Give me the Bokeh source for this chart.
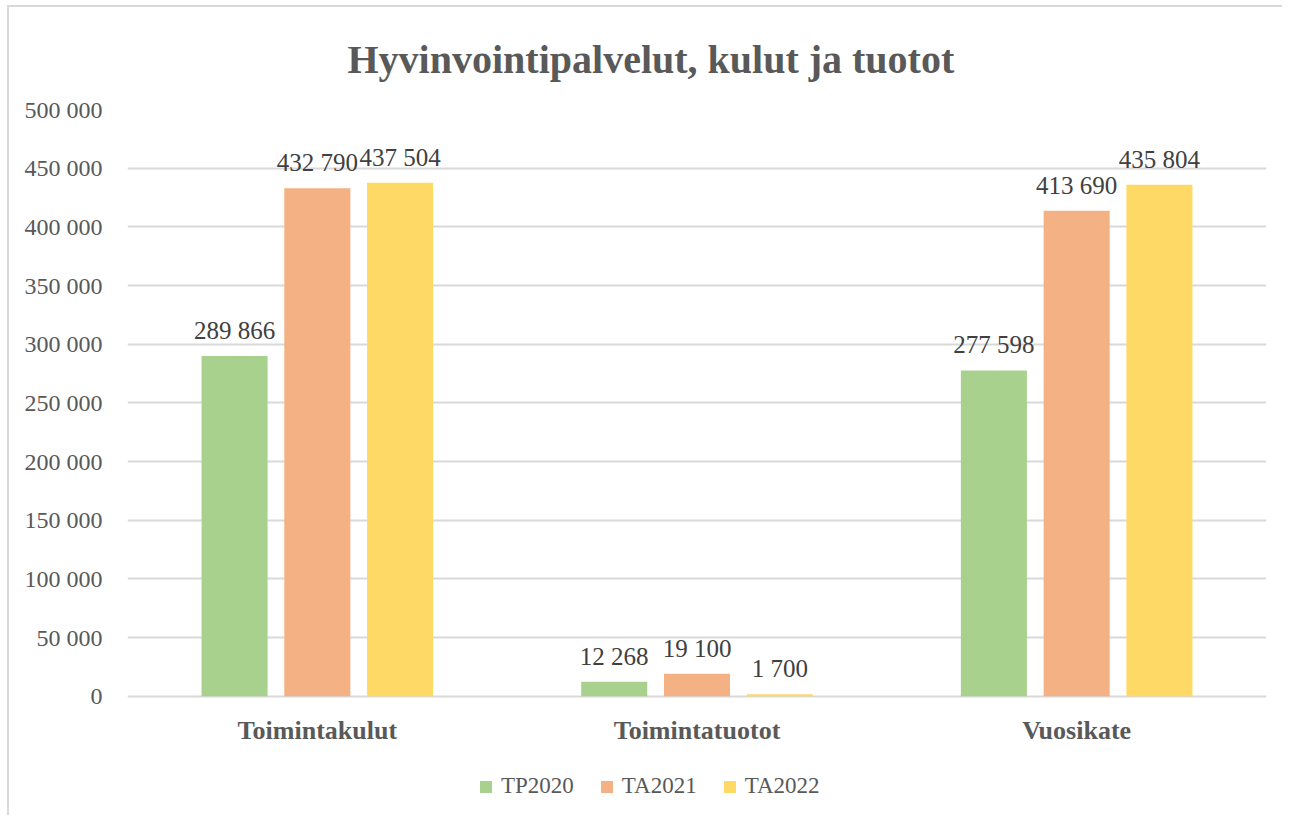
from bokeh.plotting import figure
from bokeh.models import (ColumnDataSource, FactorRange, LabelSet, Legend, LegendItem,
                          CustomJSTickFormatter, FixedTicker)
from bokeh.transform import dodge
from bokeh.embed import file_html
from bokeh.resources import INLINE

categories = ["Toimintakulut", "Toimintatuotot", "Vuosikate"]
series_names = ["TP2020", "TA2021", "TA2022"]
tp2020 = [289866, 12268, 277598]
ta2021 = [432790, 19100, 413690]
ta2022 = [437504, 1700, 435804]
colors = ["#A9D18E", "#F4B183", "#FFD966"]
y_ticks = [0, 50000, 100000, 150000, 200000, 250000, 300000, 350000, 400000, 450000, 500000]

FONT = "Liberation Serif"

def fmt(v):
    return f"{v:,}".replace(",", " ")

src = ColumnDataSource(dict(
    cat=categories,
    zero=[0, 0, 0],
    TP2020=tp2020, TA2021=ta2021, TA2022=ta2022,
    TP2020_lbl=[fmt(v) for v in tp2020],
    TA2021_lbl=[fmt(v) for v in ta2021],
    TA2022_lbl=[fmt(v) for v in ta2022],
))

# the frame reaches below the zero line so that category names and legend sit inside it
p = figure(x_range=FactorRange(*categories, range_padding=0), y_range=(-100000, 500000),
           width=1275, height=810, output_backend="svg", toolbar_location=None,
           min_border_left=118, min_border_right=18, min_border_top=102, min_border_bottom=4)
p.styles = {"border-left": "2px solid #d9d9d9", "border-top": "2px solid #d9d9d9",
            "margin-left": "7px", "margin-top": "5px"}
p.outline_line_color = None

p.title.text = "Hyvinvointipalvelut, kulut ja tuotot"
p.title.align = "left"
p.title.offset = 220
p.title.vertical_align = "top"
p.title.text_font = FONT
p.title.text_font_size = "40px"
p.title.text_font_style = "bold"
p.title.text_color = "#595959"
p.title.standoff = 52

offsets = [-0.218, 0.0, 0.218]
renderers = []
for name, off, col in zip(series_names, offsets, colors):
    r = p.vbar(x=dodge("cat", off, range=p.x_range), top=name, width=0.174, source=src,
               fill_color=col, line_color=None)
    renderers.append(r)
    lbl = LabelSet(x=dodge("cat", off, range=p.x_range), y=name, text=name + "_lbl", source=src,
                   text_align="center", text_baseline="bottom", y_offset=12,
                   text_font=FONT, text_font_size="25px", text_color="#404040")
    p.add_layout(lbl)

cat_lbl = LabelSet(x="cat", y="zero", text="cat", source=src, text_align="center",
                   text_baseline="middle", y_offset=-34, text_font=FONT,
                   text_font_size="26px", text_font_style="bold", text_color="#595959")
p.add_layout(cat_lbl)

p.xaxis.visible = False

p.yaxis.ticker = FixedTicker(ticks=y_ticks)
p.yaxis.formatter = CustomJSTickFormatter(code="return tick.toString().replace(/\\B(?=(\\d{3})+(?!\\d))/g, ' ');")
p.yaxis.axis_line_color = None
p.yaxis.major_tick_line_color = None
p.yaxis.minor_tick_line_color = None
p.yaxis.major_label_text_font = FONT
p.yaxis.major_label_text_font_size = "24px"
p.yaxis.major_label_text_color = "#595959"
p.yaxis.major_label_standoff = 19

p.xgrid.grid_line_color = None
p.ygrid.grid_line_color = "#d9d9d9"
p.ygrid.grid_line_width = 2

legend = Legend(items=[LegendItem(label=n, renderers=[r]) for n, r in zip(series_names, renderers)],
                orientation="horizontal", location=(351, 14),
                label_text_font=FONT, label_text_font_size="23px", label_text_color="#595959",
                glyph_width=15, glyph_height=15, spacing=25, label_standoff=8,
                border_line_color=None, background_fill_alpha=0, padding=4, margin=0)
p.add_layout(legend, "center")

open("out.html", "w").write(file_html(p, INLINE))
